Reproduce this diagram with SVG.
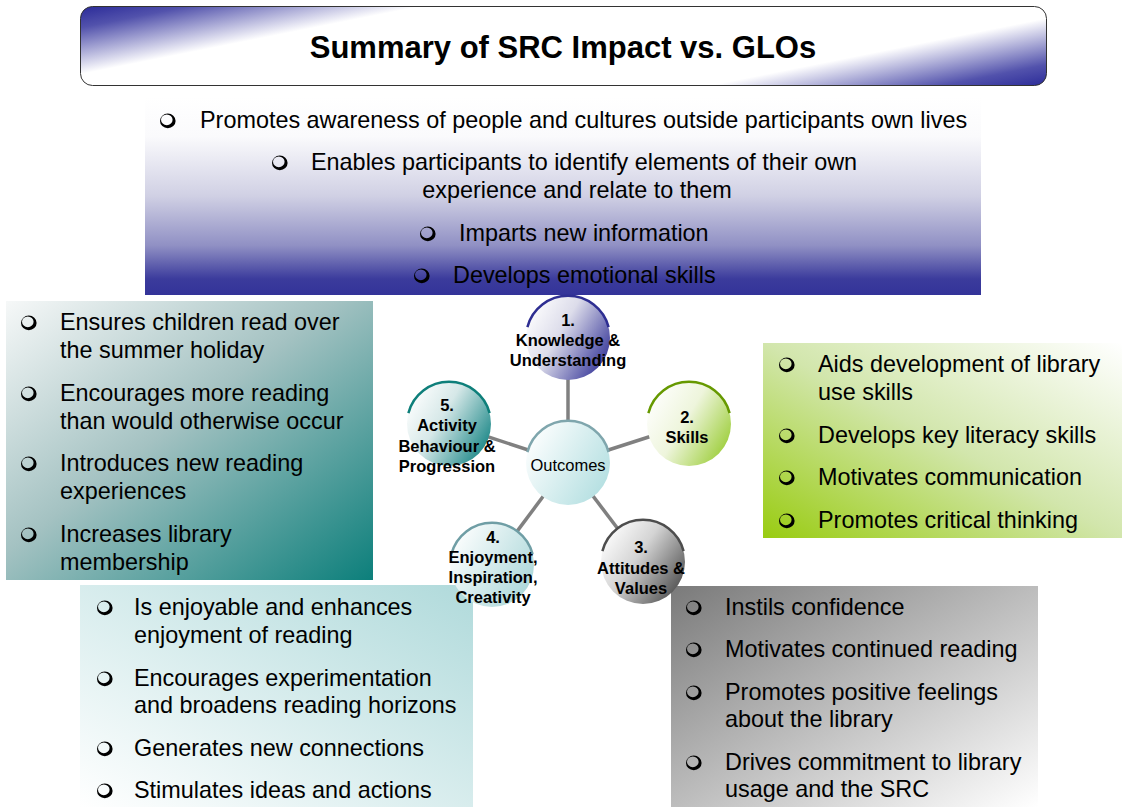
<svg xmlns="http://www.w3.org/2000/svg" xmlns:xlink="http://www.w3.org/1999/xlink" width="1122" height="807" viewBox="0 0 1122 807">
  <style>
    .item { font-family: "Liberation Sans", Arial, sans-serif; font-size: 23.4px; fill: #000; }
    .title { font-family: "Liberation Sans", Arial, sans-serif; font-size: 31px; font-weight: bold; fill: #000; }
    .lbl { font-family: "Liberation Sans", Arial, sans-serif; font-size: 16.5px; font-weight: bold; fill: #000; text-anchor: middle; }
    .hub { font-family: "Liberation Sans", Arial, sans-serif; font-size: 16.5px; fill: #000; text-anchor: middle; }
    .link { stroke: #808080; stroke-width: 3.5; fill: none; }
    .rim { fill: none; stroke-width: 2.5; }
  </style>
  <defs>
    <!-- shadowed ring bullet: thin upper-left edge, heavy lower-right edge -->
    <path id="bul" fill="#000" fill-rule="evenodd"
      d="M 8.6 0.9 A 7.8 7.3 0 1 1 -7.0 0.9 A 7.8 7.3 0 1 1 8.6 0.9 Z M 5.6 -0.2 A 5.8 5.4 0 1 0 -6.0 -0.2 A 5.8 5.4 0 1 0 5.6 -0.2 Z"/>
    <!-- upper rim arc of a node circle (r = 42) -->
    <path id="rim" d="M -40.6 -10.9 A 42 42 0 0 1 40.6 -10.9"/>

    <linearGradient id="gTitle" gradientUnits="userSpaceOnUse" x1="80" y1="6" x2="132.5" y2="269">
      <stop offset="0" stop-color="#2a2a98"/>
      <stop offset="0.08" stop-color="#5252ac"/>
      <stop offset="0.25" stop-color="#ffffff"/>
      <stop offset="0.75" stop-color="#ffffff"/>
      <stop offset="0.92" stop-color="#5252ac"/>
      <stop offset="1" stop-color="#2a2a98"/>
    </linearGradient>
    <linearGradient id="gTop" x1="0" y1="0" x2="0" y2="1">
      <stop offset="0" stop-color="#ffffff"/>
      <stop offset="0.2" stop-color="#fafafc"/>
      <stop offset="0.5" stop-color="#d0d0e4"/>
      <stop offset="0.75" stop-color="#9090c4"/>
      <stop offset="0.92" stop-color="#3b3b9c"/>
      <stop offset="1" stop-color="#333399"/>
    </linearGradient>
    <linearGradient id="gLeft" x1="0" y1="0" x2="1" y2="1">
      <stop offset="0" stop-color="#f6f8f8"/>
      <stop offset="0.45" stop-color="#a4c2c2"/>
      <stop offset="1" stop-color="#0c7f7b"/>
    </linearGradient>
    <linearGradient id="gGreen" x1="0" y1="1" x2="1" y2="0">
      <stop offset="0" stop-color="#99cc11"/>
      <stop offset="0.5" stop-color="#d2e6ac"/>
      <stop offset="1" stop-color="#ffffff"/>
    </linearGradient>
    <linearGradient id="gBL" x1="1" y1="0" x2="0" y2="1">
      <stop offset="0" stop-color="#b0dadb"/>
      <stop offset="1" stop-color="#ffffff"/>
    </linearGradient>
    <linearGradient id="gBR" x1="0" y1="0" x2="1" y2="1">
      <stop offset="0" stop-color="#7a7a7a"/>
      <stop offset="1" stop-color="#ffffff"/>
    </linearGradient>

    <linearGradient id="c1" x1="0" y1="0.2" x2="1" y2="0.8">
      <stop offset="0" stop-color="#ffffff"/>
      <stop offset="0.4" stop-color="#dcdcea"/>
      <stop offset="1" stop-color="#2f2f95"/>
    </linearGradient>
    <linearGradient id="c2" x1="0" y1="0.2" x2="1" y2="0.8">
      <stop offset="0" stop-color="#ffffff"/>
      <stop offset="0.45" stop-color="#eef5dc"/>
      <stop offset="1" stop-color="#99cc33"/>
    </linearGradient>
    <linearGradient id="c3" x1="0" y1="0.2" x2="1" y2="0.9">
      <stop offset="0" stop-color="#ffffff"/>
      <stop offset="0.4" stop-color="#d4d4d4"/>
      <stop offset="1" stop-color="#404040"/>
    </linearGradient>
    <linearGradient id="c4" x1="0" y1="0.2" x2="1" y2="0.8">
      <stop offset="0" stop-color="#ffffff"/>
      <stop offset="1" stop-color="#a9d6d8"/>
    </linearGradient>
    <linearGradient id="c5" x1="0" y1="0.2" x2="1" y2="0.8">
      <stop offset="0" stop-color="#ffffff"/>
      <stop offset="0.4" stop-color="#d6e8e8"/>
      <stop offset="1" stop-color="#118282"/>
    </linearGradient>
    <linearGradient id="c0" x1="0" y1="0.2" x2="1" y2="0.8">
      <stop offset="0" stop-color="#ffffff"/>
      <stop offset="1" stop-color="#b1dee0"/>
    </linearGradient>
  </defs>

  <rect width="1122" height="807" fill="#ffffff"/>

  <!-- heading -->
  <g id="title">
    <rect x="80.5" y="6.5" width="966" height="79" rx="12" fill="url(#gTitle)" stroke="#333333" stroke-width="1"/>
    <text class="title" x="563" y="58" text-anchor="middle">Summary of SRC Impact vs. GLOs</text>
  </g>

  <!-- knowledge & understanding list -->
  <g id="box-knowledge">
    <rect x="145" y="97" width="836" height="198" fill="url(#gTop)"/>
    <use xlink:href="#bul" x="167" y="120"/>
    <text class="item" x="200" y="128">Promotes awareness of people and cultures outside participants own lives</text>
    <use xlink:href="#bul" x="279" y="162"/>
    <text class="item" x="311" y="170">Enables participants to identify elements of their own</text>
    <text class="item" x="577" y="198" text-anchor="middle">experience and relate to them</text>
    <use xlink:href="#bul" x="427" y="233"/>
    <text class="item" x="459" y="241">Imparts new information</text>
    <use xlink:href="#bul" x="421" y="275"/>
    <text class="item" x="453" y="283">Develops emotional skills</text>
  </g>

  <!-- activity, behaviour & progression list -->
  <g id="box-activity">
    <rect x="6" y="301" width="367" height="279" fill="url(#gLeft)"/>
    <use xlink:href="#bul" x="28" y="322"/>
    <text class="item" x="60" y="330">Ensures children read over</text>
    <text class="item" x="60" y="358">the summer holiday</text>
    <use xlink:href="#bul" x="28" y="393"/>
    <text class="item" x="60" y="401">Encourages more reading</text>
    <text class="item" x="60" y="429">than would otherwise occur</text>
    <use xlink:href="#bul" x="28" y="463"/>
    <text class="item" x="60" y="471">Introduces new reading</text>
    <text class="item" x="60" y="499">experiences</text>
    <use xlink:href="#bul" x="28" y="534"/>
    <text class="item" x="60" y="542">Increases library</text>
    <text class="item" x="60" y="570">membership</text>
  </g>

  <!-- skills list -->
  <g id="box-skills">
    <rect x="763" y="343" width="359" height="195" fill="url(#gGreen)"/>
    <use xlink:href="#bul" x="786" y="364"/>
    <text class="item" x="818" y="372">Aids development of library</text>
    <text class="item" x="818" y="400">use skills</text>
    <use xlink:href="#bul" x="786" y="435"/>
    <text class="item" x="818" y="443">Develops key literacy skills</text>
    <use xlink:href="#bul" x="786" y="477"/>
    <text class="item" x="818" y="485">Motivates communication</text>
    <use xlink:href="#bul" x="786" y="520"/>
    <text class="item" x="818" y="528">Promotes critical thinking</text>
  </g>

  <!-- enjoyment list -->
  <g id="box-enjoyment">
    <rect x="80" y="585" width="393" height="222" fill="url(#gBL)"/>
    <use xlink:href="#bul" x="104" y="607"/>
    <text class="item" x="134" y="615">Is enjoyable and enhances</text>
    <text class="item" x="134" y="643">enjoyment of reading</text>
    <use xlink:href="#bul" x="104" y="678"/>
    <text class="item" x="134" y="686">Encourages experimentation</text>
    <text class="item" x="134" y="713">and broadens reading horizons</text>
    <use xlink:href="#bul" x="104" y="748"/>
    <text class="item" x="134" y="756">Generates new connections</text>
    <use xlink:href="#bul" x="104" y="790"/>
    <text class="item" x="134" y="798">Stimulates ideas and actions</text>
  </g>

  <!-- attitudes & values list -->
  <g id="box-attitudes">
    <rect x="671" y="586" width="367" height="221" fill="url(#gBR)"/>
    <use xlink:href="#bul" x="693" y="607"/>
    <text class="item" x="725" y="615">Instils confidence</text>
    <use xlink:href="#bul" x="693" y="649"/>
    <text class="item" x="725" y="657">Motivates continued reading</text>
    <use xlink:href="#bul" x="693" y="692"/>
    <text class="item" x="725" y="700">Promotes positive feelings</text>
    <text class="item" x="725" y="727">about the library</text>
    <use xlink:href="#bul" x="693" y="762"/>
    <text class="item" x="725" y="770">Drives commitment to library</text>
    <text class="item" x="725" y="797">usage and the SRC</text>
  </g>

  <!-- spokes from the hub to each outcome -->
  <g id="connectors">
    <line class="link" x1="568" y1="463" x2="568" y2="338"/>
    <line class="link" x1="568" y1="463" x2="689" y2="424"/>
    <line class="link" x1="568" y1="463" x2="643" y2="562"/>
    <line class="link" x1="568" y1="463" x2="492" y2="565"/>
    <line class="link" x1="568" y1="463" x2="449" y2="424"/>
  </g>

  <g id="node-outcomes" transform="translate(568,463)">
    <circle r="42" fill="url(#c0)"/>
    <use xlink:href="#rim" class="rim" stroke="#7fa6ad"/>
    <text class="hub" x="0" y="8">Outcomes</text>
  </g>

  <g id="node-1" transform="translate(568,338)">
    <circle r="42" fill="url(#c1)"/>
    <use xlink:href="#rim" class="rim" stroke="#2e2e92"/>
    <text class="lbl" x="0" y="-12">1.</text>
    <text class="lbl" x="0" y="8">Knowledge &amp;</text>
    <text class="lbl" x="0" y="28">Understanding</text>
  </g>

  <g id="node-2" transform="translate(689,424)">
    <circle r="42" fill="url(#c2)"/>
    <use xlink:href="#rim" class="rim" stroke="#669900"/>
    <text class="lbl" x="-2" y="-1">2.</text>
    <text class="lbl" x="-2" y="19">Skills</text>
  </g>

  <g id="node-3" transform="translate(643,562)">
    <circle r="42" fill="url(#c3)"/>
    <use xlink:href="#rim" class="rim" stroke="#4d4d4d"/>
    <text class="lbl" x="-2" y="-9">3.</text>
    <text class="lbl" x="-2" y="12">Attitudes &amp;</text>
    <text class="lbl" x="-2" y="32">Values</text>
  </g>

  <g id="node-4" transform="translate(492,565)">
    <circle r="42" fill="url(#c4)"/>
    <use xlink:href="#rim" class="rim" stroke="#6f9ea5"/>
    <text class="lbl" x="1" y="-22">4.</text>
    <text class="lbl" x="1" y="-2">Enjoyment,</text>
    <text class="lbl" x="1" y="18">Inspiration,</text>
    <text class="lbl" x="1" y="38">Creativity</text>
  </g>

  <g id="node-5" transform="translate(449,424)">
    <circle r="42" fill="url(#c5)"/>
    <use xlink:href="#rim" class="rim" stroke="#0e7f7a"/>
    <text class="lbl" x="-2" y="-13">5.</text>
    <text class="lbl" x="-2" y="7">Activity</text>
    <text class="lbl" x="-2" y="28">Behaviour &amp;</text>
    <text class="lbl" x="-2" y="48">Progression</text>
  </g>
</svg>
